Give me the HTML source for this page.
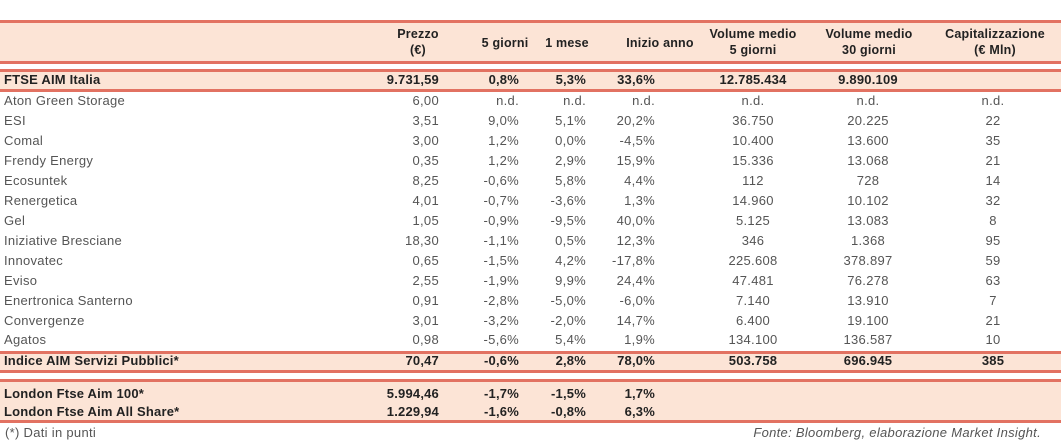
<!DOCTYPE html>
<html><head><meta charset="utf-8">
<style>
body{margin:0;width:1061px;height:443px;background:#fff;position:relative;overflow:hidden;font-family:"Liberation Sans",sans-serif;}
.band{position:absolute;left:0;width:1061px;background:#fce4d6;}
.ln{position:absolute;left:0;width:1061px;height:3px;background:#e27262;}
.c{position:absolute;font-size:13px;line-height:16px;white-space:nowrap;color:#555;letter-spacing:0.3px;}
.b{font-weight:bold;color:#222;letter-spacing:0.2px;}
.h{position:absolute;font-size:12.5px;line-height:16px;font-weight:bold;color:#222;text-align:center;transform:translateX(-50%);letter-spacing:0.2px;}
</style></head><body>
<div class="band" style="top:21px;height:42px"></div>
<div class="band" style="top:70px;height:21px"></div>
<div class="band" style="top:352px;height:19px"></div>
<div class="band" style="top:380px;height:42px"></div>
<div class="ln" style="top:20px"></div>
<div class="ln" style="top:61px"></div>
<div class="ln" style="top:69px"></div>
<div class="ln" style="top:89px"></div>
<div class="ln" style="top:351px"></div>
<div class="ln" style="top:370px"></div>
<div class="ln" style="top:379px"></div>
<div class="ln" style="top:420px"></div>

<div class="h" style="left:418px;top:26px">Prezzo<br>(€)</div>
<div class="h" style="left:505px;top:35px">5 giorni</div>
<div class="h" style="left:567px;top:35px">1 mese</div>
<div class="h" style="left:660px;top:35px">Inizio anno</div>
<div class="h" style="left:753px;top:26px">Volume medio<br>5 giorni</div>
<div class="h" style="left:869px;top:26px">Volume medio<br>30 giorni</div>
<div class="h" style="left:995px;top:26px">Capitalizzazione<br>(€ Mln)</div>

<div class="c" style="left:5px;top:425px">(*) Dati in punti</div>
<div class="c" style="right:20px;top:425px;font-style:italic">Fonte: Bloomberg, elaborazione Market Insight.</div>

<script>
const names=["FTSE AIM Italia","Aton Green Storage","ESI","Comal","Frendy Energy","Ecosuntek","Renergetica","Gel","Iniziative Bresciane","Innovatec","Eviso","Enertronica Santerno","Convergenze","Agatos","Indice AIM Servizi Pubblici*","London Ftse Aim 100*","London Ftse Aim All Share*"];
const prezzo=["9.731,59","6,00","3,51","3,00","0,35","8,25","4,01","1,05","18,30","0,65","2,55","0,91","3,01","0,98","70,47","5.994,46","1.229,94"];
const g5=["0,8%","n.d.","9,0%","1,2%","1,2%","-0,6%","-0,7%","-0,9%","-1,1%","-1,5%","-1,9%","-2,8%","-3,2%","-5,6%","-0,6%","-1,7%","-1,6%"];
const m1=["5,3%","n.d.","5,1%","0,0%","2,9%","5,8%","-3,6%","-9,5%","0,5%","4,2%","9,9%","-5,0%","-2,0%","5,4%","2,8%","-1,5%","-0,8%"];
const ytd=["33,6%","n.d.","20,2%","-4,5%","15,9%","4,4%","1,3%","40,0%","12,3%","-17,8%","24,4%","-6,0%","14,7%","1,9%","78,0%","1,7%","6,3%"];
const vol5=["12.785.434","n.d.","36.750","10.400","15.336","112","14.960","5.125","346","225.608","47.481","7.140","6.400","134.100","503.758","",""];
const vol30=["9.890.109","n.d.","20.225","13.600","13.068","728","10.102","13.083","1.368","378.897","76.278","13.910","19.100","136.587","696.945","",""];
const cap=["","n.d.","22","35","21","14","32","8","95","59","63","7","21","10","385","",""];
const tops=[72,93,113,133,153,173,193,213,233,253,273,293,313,332,353,386,404];
const bold=[0,14,15,16];
function cell(txt,top,isBold,left,right,center){
  const d=document.createElement('div');
  d.className='c'+(isBold?' b':'');
  d.textContent=txt;d.style.top=top+'px';
  if(left!=null)d.style.left=left+'px';
  if(right!=null)d.style.right=(1061-right)+'px';
  if(center!=null){d.style.left=center+'px';d.style.transform='translateX(-50%)';}
  
  
  document.body.appendChild(d);
}
names.forEach((n,i)=>{
  const t=tops[i],b=bold.includes(i);
  const row=[[n,4,null,null],[prezzo[i],null,439,null],[g5[i],null,519,null],[m1[i],null,586,null],[ytd[i],null,655,null],[vol5[i],null,null,753],[vol30[i],null,null,868],[cap[i],null,null,993]];
  row.forEach(r=>{ if(r[0]!=='') cell(r[0],t,b,r[1],r[2],r[3]); });
});
</script>
</body></html>
